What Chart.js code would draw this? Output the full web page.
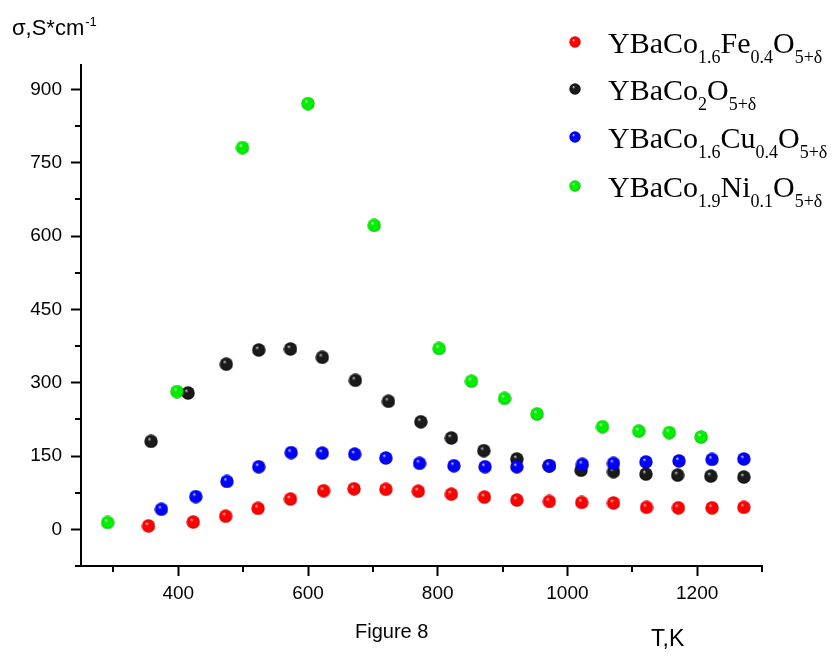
<!DOCTYPE html>
<html>
<head>
<meta charset="utf-8">
<script src="https://cdn.jsdelivr.net/npm/chart.js"></script>
<style>
  html, body { margin: 0; padding: 0; background: #fff; }
  #wrap { width: 833px; height: 656px; }
</style>
</head>
<body>
<div id="wrap"><canvas id="sigmaChart" width="833" height="656"></canvas></div>
<script>
// values (T in K, sigma in S/cm)
const tempFe = [354, 423, 473, 523, 573, 624, 671, 720, 770, 821, 872, 922, 972, 1022, 1071, 1122, 1171, 1223, 1272];
const sigmaFe = [7, 15, 27, 43, 62, 79, 83, 82, 78, 72, 66, 60, 57, 55, 54, 45, 44, 44, 45];

const tempCo2 = [358, 415, 474, 524, 573, 622, 673, 724, 774, 821, 871, 922, 972, 1021, 1071, 1121, 1170, 1221, 1272];
const sigmaCo2 = [180, 279, 338, 367, 369, 352, 305, 262, 220, 187, 161, 144, 130, 121, 118, 113, 111, 109, 107];

const tempCu = [374, 427, 475, 524, 574, 622, 672, 720, 772, 825, 873, 922, 972, 1023, 1071, 1121, 1172, 1223, 1272];
const sigmaCu = [41, 67, 98, 128, 157, 156, 154, 146, 135, 130, 128, 128, 130, 133, 135, 138, 140, 143, 144];

const tempNi = [291, 398, 499, 600, 702, 802, 852, 903, 953, 1054, 1110, 1157, 1206];
const sigmaNi = [14, 282, 781, 871, 622, 370, 303, 268, 236, 210, 201, 198, 189];

// legend names, split in [text, isSubscript] pieces
const seriesNames = [
    [['YBaCo', 0], ['1.6', 1], ['Fe', 0], ['0.4', 1], ['O', 0], ['5+δ', 1]],
    [['YBaCo', 0], ['2', 1], ['O', 0], ['5+δ', 1]],
    [['YBaCo', 0], ['1.6', 1], ['Cu', 0], ['0.4', 1], ['O', 0], ['5+δ', 1]],
    [['YBaCo', 0], ['1.9', 1], ['Ni', 0], ['0.1', 1], ['O', 0], ['5+δ', 1]]
];

const yTickLabels = [0, 150, 300, 450, 600, 750, 900];
const xTickLabels = [400, 600, 800, 1000, 1200];

// shaded ball sprites [highlight, body, edge]
const ballShades = [
    ['#ffe0e0', '#ff0000', '#c00000'],
    ['#d8d8d8', '#1a1a1a', '#000000'],
    ['#e0e6ff', '#0000ff', '#0000b0'],
    ['#eeffee', '#00ee00', '#00a800']
];

function makeBall(shade, d) {
    const c = document.createElement('canvas');
    c.width = d; c.height = d;
    const g = c.getContext('2d');
    const r = d / 2;
    const grad = g.createRadialGradient(r * 0.72, r * 0.62, 0, r, r, r);
    grad.addColorStop(0, shade[0]);
    grad.addColorStop(0.28, shade[1]);
    grad.addColorStop(0.8, shade[1]);
    grad.addColorStop(1, shade[2]);
    g.fillStyle = grad;
    g.beginPath();
    g.arc(r, r, r - 0.3, 0, Math.PI * 2);
    g.fill();
    return c;
}

const pointBalls = ballShades.map(s => makeBall(s, 14));
const legendBalls = ballShades.map(s => makeBall(s, 12));

function toPoints(xs, ys) {
    return xs.map((x, i) => ({ x: x, y: ys[i] }));
}

function drawRich(ctx, x, baseline, pieces) {
    pieces.forEach(p => {
        ctx.font = p[1] ? '18px "Liberation Serif", "Times New Roman", serif' : '30px "Liberation Serif", "Times New Roman", serif';
        const y = p[1] ? baseline + 10 : baseline;
        ctx.fillText(p[0], x, y);
        x += ctx.measureText(p[0]).width;
    });
}

const decor = {
    id: 'decor',
    afterDraw(chart) {
        const ctx = chart.ctx;
        const xs = chart.scales.x, ys = chart.scales.y;
        ctx.save();

        // minor ticks
        ctx.strokeStyle = '#000';
        ctx.lineWidth = 2;
        xs.ticks.forEach(t => {
            if (xTickLabels.includes(t.value)) return;
            const px = Math.round(xs.getPixelForValue(t.value));
            ctx.beginPath();
            ctx.moveTo(px, xs.top);
            ctx.lineTo(px, xs.top + 6);
            ctx.stroke();
        });
        ys.ticks.forEach(t => {
            if (yTickLabels.includes(t.value)) return;
            const py = Math.round(ys.getPixelForValue(t.value));
            ctx.beginPath();
            ctx.moveTo(ys.right - 6, py);
            ctx.lineTo(ys.right, py);
            ctx.stroke();
        });

        // axis titles
        ctx.fillStyle = '#000';
        ctx.textBaseline = 'alphabetic';
        ctx.textAlign = 'left';
        ctx.font = '22px "Liberation Sans", Arial, sans-serif';
        ctx.fillText('σ,S*cm', 12, 35);
        const w = ctx.measureText('σ,S*cm').width;
        ctx.font = '13px "Liberation Sans", Arial, sans-serif';
        ctx.fillText('-1', 12 + w + 1, 26);

        ctx.font = '23px "Liberation Sans", Arial, sans-serif';
        ctx.fillText('T,K', 651, 646);
        ctx.font = '20px "Liberation Sans Narrow", "Liberation Sans", Arial, sans-serif';
        ctx.fillText('Figure 8', 355, 638);

        // legend
        const ballY = [42, 89, 137, 186];
        const textY = [53, 100, 148, 197];
        seriesNames.forEach((pieces, i) => {
            ctx.drawImage(legendBalls[i], 575 - 6, ballY[i] - 6);
            drawRich(ctx, 608, textY[i], pieces);
        });
        ctx.restore();
    }
};

const tickFont = { family: '"Liberation Sans", Arial, sans-serif', size: 19 };

new Chart(document.getElementById('sigmaChart'), {
    type: 'scatter',
    data: {
        datasets: [
            { data: toPoints(tempFe, sigmaFe), pointStyle: pointBalls[0], order: 4 },
            { data: toPoints(tempCo2, sigmaCo2), pointStyle: pointBalls[1], order: 3 },
            { data: toPoints(tempCu, sigmaCu), pointStyle: pointBalls[2], order: 2 },
            { data: toPoints(tempNi, sigmaNi), pointStyle: pointBalls[3], order: 1 }
        ]
    },
    options: {
        responsive: false,
        animation: false,
        layout: { padding: { left: 0, right: 71, top: 65, bottom: 0 } },
        elements: { point: { radius: 7 } },
        plugins: {
            legend: { display: false },
            tooltip: { enabled: false }
        },
        scales: {
            x: {
                type: 'linear',
                min: 250,
                max: 1300,
                afterFit: s => { s.height = 90; },
                border: { color: '#000', width: 2 },
                grid: {
                    drawOnChartArea: false,
                    tickLength: 10,
                    tickWidth: 2,
                    tickColor: c => xTickLabels.includes(c.tick && c.tick.value) ? '#000' : 'rgba(0,0,0,0)'
                },
                ticks: {
                    stepSize: 100,
                    includeBounds: false,
                    autoSkip: false,
                    maxRotation: 0,
                    padding: 6,
                    color: '#000',
                    font: tickFont,
                    callback: v => xTickLabels.includes(v) ? String(v) : ''
                }
            },
            y: {
                type: 'linear',
                min: -75,
                max: 950,
                afterFit: s => { s.width = 81; },
                border: { color: '#000', width: 2 },
                grid: {
                    drawOnChartArea: false,
                    tickLength: 10,
                    tickWidth: 2,
                    tickColor: c => yTickLabels.includes(c.tick && c.tick.value) ? '#000' : 'rgba(0,0,0,0)'
                },
                ticks: {
                    stepSize: 75,
                    includeBounds: false,
                    autoSkip: false,
                    padding: 9,
                    color: '#000',
                    font: tickFont,
                    callback: v => yTickLabels.includes(v) ? String(v) : ''
                }
            }
        }
    },
    plugins: [decor]
});
</script>
</body>
</html>
